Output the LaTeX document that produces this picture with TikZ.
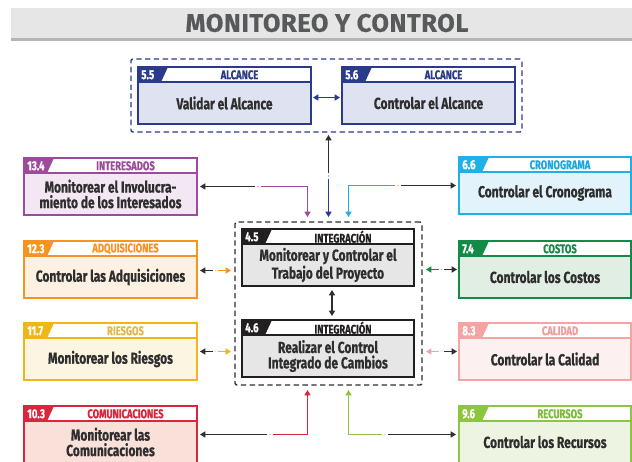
\documentclass[tikz,border=0pt]{standalone}
\usepackage{fontspec}
\setmainfont{Fira Sans}[FakeStretch=0.75, BoldFeatures={FakeBold=0.6}]
\newfontfamily\titlefont{Fira Sans}[LetterSpace=2.5, BoldFeatures={FakeBold=0.4}]
\usetikzlibrary{arrows.meta,calc}
\definecolor{alc}{HTML}{2B3A8C}\definecolor{alcL}{HTML}{DFE2F0}\definecolor{alcH}{HTML}{2B3A8C}
\definecolor{intr}{HTML}{9C4A9B}\definecolor{intrL}{HTML}{F2E7F2}\definecolor{intrH}{HTML}{9C4A9B}
\definecolor{adq}{HTML}{F7941D}\definecolor{adqL}{HTML}{FDF1E3}\definecolor{adqH}{HTML}{F7941D}
\definecolor{rie}{HTML}{EFB615}\definecolor{rieL}{HTML}{FCF5E1}\definecolor{rieH}{HTML}{E6B64A}
\definecolor{com}{HTML}{D9263A}\definecolor{comL}{HTML}{F9E1DA}\definecolor{comH}{HTML}{D9263A}
\definecolor{cro}{HTML}{1FB1E6}\definecolor{croL}{HTML}{E2F3FB}\definecolor{croH}{HTML}{1FA8DF}
\definecolor{cos}{HTML}{138A48}\definecolor{cosL}{HTML}{E0EEE3}\definecolor{cosH}{HTML}{138A48}
\definecolor{cal}{HTML}{F6A3A3}\definecolor{calL}{HTML}{FDF0F0}\definecolor{calH}{HTML}{F39A9A}
\definecolor{rec}{HTML}{8CC63F}\definecolor{recL}{HTML}{EDF5E2}\definecolor{recH}{HTML}{7DBB3A}
\definecolor{itg}{HTML}{231F20}\definecolor{itgL}{HTML}{E6E6E6}\definecolor{itgH}{HTML}{231F20}
\definecolor{txt}{HTML}{2E2E2E}
\definecolor{titlebg}{HTML}{E6E6E6}\definecolor{titleline}{HTML}{B5B5B5}\definecolor{titletx}{HTML}{58595B}
\tikzset{
  pmnode/.style={rectangle, anchor=north west, inner sep=0pt, outer sep=0pt},
  headtxt/.style={inner sep=0pt, font=\fontsize{9.4}{10}\selectfont\bfseries},
  numtxt/.style={inner sep=0pt, anchor=west, text=white, font=\fontsize{9.8}{10}\selectfont\bfseries},
  bodytxt/.style={inner sep=0pt, align=center, text=txt, font=\fontsize{12}{11.6}\selectfont\bfseries},
  grpbox/.style={rectangle, anchor=north west, inner sep=0pt, outer sep=0pt, line width=1pt,
                 dash pattern=on 4pt off 2.6pt, rounded corners=1.5pt},
  tip/.style={-{Triangle[length=4pt,width=4.6pt]}},
  wire/.style={line width=0.9pt},
  dbl/.style={{Triangle[length=4pt,width=4.6pt]}-{Triangle[length=4pt,width=4.6pt]}, line width=0.9pt},
}
% #1 name #2 x #3 y #4 w #5 h #6 colour #7 number #8 header #9 body
\newcommand\pmbox[9]{%
  \node[pmnode, fill=#6L, minimum width={#4*0.75pt}, minimum height={#5*0.75pt}] (#1) at (#2,#3) {};
  \fill[white] (#1.north west) rectangle ($(#1.north east)+(0,15)$);
  \fill[#6] (#1.north west) -- ++(30,0) -- ++(-7,15) -- ++(-23,0) -- cycle;
  \draw[#6, line width=1.1pt] (#1.north west) rectangle (#1.south east);
  \draw[#6, line width=1.1pt] ($(#1.north west)+(0,15)$) -- ($(#1.north east)+(0,15)$);
  \draw[#6, line width=2pt] (#1.north west) -- (#1.south west) -- (#1.south east);
  \node[numtxt] (#1-n) at ($(#1.north west)+(3,7.8)$) {#7};
  \node[headtxt, text=#6H] (#1-h) at ({#2+#4/2+15},{#3+7.8}) {#8};
  \node[bodytxt] (#1-b) at ({#2+#4/2},{#3+15+(#5-15)/2}) {#9};
}
% #1 colour #2 black tip #3 mid #4 next point #5 rest of path
\newcommand\twotone[5]{%
  \draw[wire, txt, tip] ($(#3)!2pt!(#2)$) -- (#2);
  \draw[wire, #1, tip] ($(#3)!2pt!(#4)$) -- (#4) #5;
  \fill[#1!45] (#3) circle (0.7pt);
}
\begin{document}
\begin{tikzpicture}[x=0.75pt, y=-0.75pt]
\useasboundingbox (0,0) rectangle (632,461);
\clip (0,0) rectangle (632,461);
% title
\fill[titlebg] (11,8) rectangle (632,38);
\fill[titleline] (11,38) rectangle (632,41);
\node[inner sep=0pt, text=titletx, font=\titlefont\fontsize{19}{20}\selectfont\bfseries] (title) at (327,23) {MONITOREO Y CONTROL};
% group boxes
\node[grpbox, draw=alc, minimum width={391*0.75pt}, minimum height={73*0.75pt}] (alcgrp) at (131,59) {};
\node[grpbox, draw=txt, minimum width={187*0.75pt}, minimum height={163*0.75pt}] (cint) at (235,222) {};
% boxes
\pmbox{alc55}{138}{67}{173}{57}{alc}{5.5}{ALCANCE}{Validar el Alcance}
\pmbox{alc56}{342}{67}{173}{57}{alc}{5.6}{ALCANCE}{Controlar el Alcance}
\pmbox{int134}{24}{158}{173}{57}{intr}{13.4}{INTERESADOS}{Monitorear el Involucra-\\miento de los Interesados}
\pmbox{adq123}{24}{241}{173}{57}{adq}{12.3}{ADQUISICIONES}{Controlar las Adquisiciones}
\pmbox{rie117}{24}{323}{173}{57}{rie}{11.7}{RIESGOS}{Monitorear los Riesgos}
\pmbox{com103}{24}{406}{173}{57}{com}{10.3}{COMUNICACIONES}{Monitorear las\\Comunicaciones}
\pmbox{cro66}{459}{157}{172}{57}{cro}{6.6}{CRONOGRAMA}{Controlar el Cronograma}
\pmbox{cos74}{459}{241}{172}{57}{cos}{7.4}{COSTOS}{Controlar los Costos}
\pmbox{cal83}{459}{323}{172}{57}{cal}{8.3}{CALIDAD}{Controlar la Calidad}
\pmbox{rec96}{459}{406}{172}{57}{rec}{9.6}{RECURSOS}{Controlar los Recursos}
\pmbox{itg45}{242}{229}{172}{57}{itg}{4.5}{INTEGRACIÓN}{Monitorear y Controlar el\\Trabajo del Proyecto}
\pmbox{itg46}{242}{320}{172}{57}{itg}{4.6}{INTEGRACIÓN}{Realizar el Control\\Integrado de Cambios}
% double arrows
\draw[dbl, alc, shorten <=1.5pt, shorten >=1.5pt] ($(alc55.east)+(0,2)$) -- ($(alc56.west)+(0,2)$);
\draw[dbl, txt, shorten <=3pt, shorten >=3pt] ($(itg45.south)+(4,0)$) -- ($(itg46.north)+(4,0)$);
% helper coordinates
\coordinate (pX) at ($(cint.north)+(-21,0)$);
\coordinate (qX) at ($(cint.north)+(20,0)$);
% top
\coordinate (tA) at ($(alcgrp.south -| cint.north)+(0,3)$);
\coordinate (tB) at ($(cint.north)+(0,-5)$);
\coordinate (tM) at ($(tA)!0.5!(tB)$);
\twotone{alc}{tA}{tM}{tB}{}
% interesados
\coordinate (iB) at ($(int134.east)+(3,0)$);
\coordinate (iM) at ($(int134.east)+(61,0)$);
\coordinate (iK) at (int134.east -| pX);
\coordinate (iT) at ($(cint.north)+(-21,-5)$);
\twotone{intr}{iB}{iM}{iK}{-- (iT)}
% cronograma
\coordinate (cB) at ($(cro66.west)+(-3,0)$);
\coordinate (cM) at ($(cro66.west)+(-61,0)$);
\coordinate (cK) at (cro66.west -| qX);
\coordinate (cT) at ($(cint.north)+(20,-5)$);
\twotone{cro}{cB}{cM}{cK}{-- (cT)}
% comunicaciones
\coordinate (mB) at ($(com103.east)+(3,0)$);
\coordinate (mM) at ($(com103.east)+(73,0)$);
\coordinate (mK) at (com103.east -| pX);
\coordinate (mT) at ($(cint.south)+(-21,5)$);
\twotone{com}{mB}{mM}{mK}{-- (mT)}
% recursos
\coordinate (rB) at ($(rec96.west)+(-3,0)$);
\coordinate (rM) at ($(rec96.west)+(-74,0)$);
\coordinate (rK) at (rec96.west -| qX);
\coordinate (rT) at ($(cint.south)+(20,5)$);
\twotone{rec}{rB}{rM}{rK}{-- (rT)}
% adquisiciones
\coordinate (aB) at ($(adq123.east)+(3,1)$);
\coordinate (aC) at ($(adq123.east -| cint.west)+(-4,1)$);
\coordinate (aM) at ($(aB)!0.5!(aC)$);
\twotone{adq}{aB}{aM}{aC}{}
% riesgos
\coordinate (sB) at ($(rie117.east)+(3,0)$);
\coordinate (sC) at ($(rie117.east -| cint.west)+(-4,0)$);
\coordinate (sM) at ($(sB)!0.5!(sC)$);
\twotone{rie}{sB}{sM}{sC}{}
% costos
\coordinate (oB) at ($(cos74.west)+(-2,0)$);
\coordinate (oC) at ($(cos74.west -| cint.east)+(4,0)$);
\coordinate (oM) at ($(oB)!0.5!(oC)$);
\twotone{cos}{oB}{oM}{oC}{}
% calidad
\coordinate (lB) at ($(cal83.west)+(-2,0)$);
\coordinate (lC) at ($(cal83.west -| cint.east)+(4,0)$);
\coordinate (lM) at ($(lB)!0.5!(lC)$);
\twotone{cal}{lB}{lM}{lC}{}
\end{tikzpicture}
\end{document}
